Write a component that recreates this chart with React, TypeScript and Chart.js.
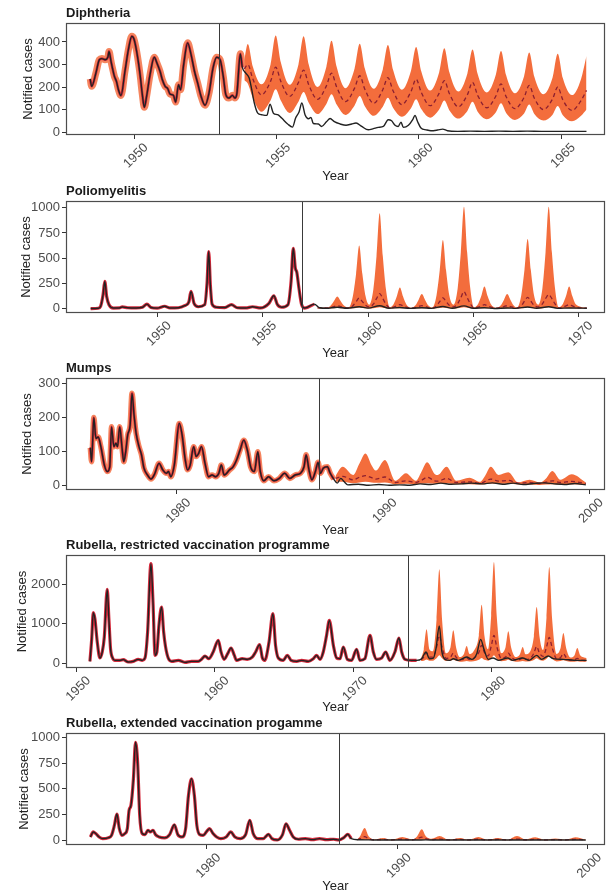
import React, { useEffect, useRef } from "react";
import { Chart, registerables } from "chart.js";

Chart.register(...registerables);

const FONT_FAMILY = "'Liberation Sans', Arial, Helvetica, sans-serif";
Chart.defaults.font.family = FONT_FAMILY;

// ---------------- Diphtheria ----------------
const diphYears = [
  1948.46, 1948.51, 1948.66, 1948.78, 1948.87, 1948.98, 1949.08, 1949.12, 1949.19, 1949.24,
  1949.31, 1949.38, 1949.45, 1949.54, 1949.68, 1949.8, 1949.92, 1949.99, 1950.09, 1950.21,
  1950.29, 1950.36, 1950.44, 1950.56, 1950.71, 1950.8, 1950.91, 1950.99, 1951.09, 1951.18,
  1951.26, 1951.38, 1951.46, 1951.56, 1951.63, 1951.74, 1951.88, 1952.0, 1952.12, 1952.23,
  1952.35, 1952.49, 1952.63, 1952.77, 1952.9, 1953.02, 1953.13, 1953.22, 1953.33, 1953.45,
  1953.54, 1953.61, 1953.73, 1953.8, 1953.92, 1954.04, 1954.13, 1954.22, 1954.34, 1954.48,
  1954.66, 1954.77, 1954.89, 1955.04, 1955.18, 1955.39, 1955.56, 1955.67, 1955.79, 1955.89,
  1956.0, 1956.12, 1956.21, 1956.29, 1956.47, 1956.58, 1956.76, 1956.88, 1957.03, 1957.23,
  1957.44, 1957.64, 1957.79, 1957.99, 1958.22, 1958.4, 1958.57, 1958.75, 1958.92, 1959.04,
  1959.16, 1959.27, 1959.37, 1959.45, 1959.63, 1959.78, 1959.86, 1959.95, 1960.07, 1960.25,
  1960.42, 1960.65, 1960.83, 1961.0, 1961.36, 1961.8, 1962.3, 1962.8, 1963.3, 1963.8,
  1964.3, 1964.8, 1965.3, 1965.88,
];
const diphCases = [
  236, 203, 262, 321, 326, 321, 332, 358, 314, 284,
  247, 225, 188, 162, 270, 366, 425, 415, 358, 255,
  166, 110, 159, 255, 332, 307, 270, 233, 203, 193,
  169, 163, 133, 210, 188, 299, 396, 344, 270, 218,
  159, 119, 173, 284, 332, 321, 247, 166, 151, 163,
  151, 173, 347, 287, 262, 240, 188, 129, 84, 77,
  74, 124, 84, 77, 62, 36, 22, 62, 89, 129,
  77, 59, 65, 38, 36, 25, 47, 60, 46, 36,
  30, 36, 40, 25, 10, 15, 21, 25, 55, 50,
  30, 25, 44, 21, 30, 55, 74, 47, 18, 10,
  6, 9, 13, 6, 3, 4, 3, 4, 3, 4,
  3, 3, 3, 3,
];
const diphBandYears = [
  1953.87, 1953.99, 1954.17, 1954.47,
  1954.79, 1954.97, 1955.15, 1955.46,
  1955.77, 1955.95, 1956.13, 1956.44,
  1956.75, 1956.93, 1957.11, 1957.42,
  1957.74, 1957.92, 1958.1, 1958.41,
  1958.73, 1958.91, 1959.09, 1959.4,
  1959.72, 1959.9, 1960.08, 1960.39,
  1960.71, 1960.89, 1961.07, 1961.38,
  1961.7, 1961.88, 1962.06, 1962.38,
  1962.7, 1962.88, 1963.06, 1963.37,
  1963.69, 1963.87, 1964.05, 1964.37,
  1964.69, 1964.87, 1965.05, 1965.37,
  1965.69, 1965.88,
];
const diphUpper = [
  320, 391, 290, 212,
  300, 428, 310, 210,
  300, 425, 300, 200,
  290, 405, 290, 195,
  282, 392, 282, 192,
  278, 386, 276, 188,
  272, 378, 270, 184,
  266, 372, 264, 180,
  260, 366, 258, 176,
  255, 360, 252, 172,
  248, 353, 246, 168,
  242, 348, 240, 164,
  236, 338,
];
const diphMean = [
  280, 300, 235, 165,
  225, 288, 225, 158,
  220, 275, 210, 145,
  205, 262, 200, 135,
  195, 250, 190, 128,
  188, 242, 183, 122,
  180, 235, 176, 117,
  173, 228, 170, 112,
  166, 221, 163, 108,
  160, 214, 157, 104,
  154, 207, 150, 100,
  147, 200, 143, 96,
  140, 185,
];
const diphLower = [
  230, 215, 150, 90,
  140, 190, 140, 85,
  135, 178, 130, 80,
  125, 168, 122, 76,
  118, 160, 115, 72,
  112, 152, 108, 68,
  106, 146, 102, 64,
  100, 140, 96, 60,
  94, 134, 90, 57,
  88, 128, 85, 54,
  82, 122, 80, 51,
  77, 116, 75, 48,
  72, 100,
];
const diphXTicks = [1950, 1955, 1960, 1965];
const diphYTicks = [0, 100, 200, 300, 400];

// ---------------- Poliomyelitis ----------------
const polioYears = [
  1946.84, 1947.2, 1947.31, 1947.43, 1947.51, 1947.6, 1947.71, 1947.92, 1948.2, 1948.34,
  1948.6, 1949.0, 1949.3, 1949.51, 1949.7, 1950.0, 1950.35, 1950.6, 1951.0, 1951.3,
  1951.5, 1951.6, 1951.75, 1951.95, 1952.25, 1952.36, 1952.44, 1952.52, 1952.6, 1952.8,
  1953.2, 1953.52, 1953.8, 1954.2, 1954.52, 1954.9, 1955.3, 1955.53, 1955.7, 1955.9,
  1956.2, 1956.35, 1956.45, 1956.55, 1956.62, 1956.72, 1956.85, 1957.0, 1957.45, 1957.7,
  1958.0, 1958.54, 1959.0, 1959.58, 1960.0, 1960.55, 1961.0, 1961.5, 1962.0, 1962.55,
  1963.0, 1963.55, 1964.0, 1964.55, 1965.0, 1965.52, 1966.0, 1966.6, 1967.0, 1967.57,
  1968.0, 1968.57, 1969.0, 1969.54, 1970.38,
];
const polioCases = [
  2, 5, 23, 140, 270, 120, 40, 7, 8, 18,
  10, 8, 15, 46, 12, 6, 25, 8, 10, 30,
  68, 172, 50, 20, 40, 250, 566, 230, 46, 15,
  12, 40, 10, 8, 20, 8, 54, 128, 40, 15,
  40, 275, 598, 401, 360, 204, 40, 7, 46, 10,
  5, 15, 5, 20, 6, 30, 5, 12, 4, 10,
  4, 22, 5, 28, 5, 10, 3, 8, 4, 18,
  5, 20, 4, 8, 5,
];
const polioBandYears = [
  1957.6, 1958.05, 1958.24, 1958.39, 1958.54, 1958.69, 1958.84,
  1959.08, 1959.28, 1959.43, 1959.58, 1959.73, 1959.88,
  1960.05, 1960.25, 1960.4, 1960.55, 1960.7, 1960.85,
  1961.03, 1961.21, 1961.36, 1961.51, 1961.66, 1961.81,
  1962.05, 1962.25, 1962.4, 1962.55, 1962.7, 1962.85,
  1963.05, 1963.25, 1963.4, 1963.55, 1963.7, 1963.85,
  1964.05, 1964.25, 1964.4, 1964.55, 1964.7, 1964.85,
  1965.02, 1965.22, 1965.37, 1965.52, 1965.67, 1965.82,
  1966.1, 1966.3, 1966.45, 1966.6, 1966.75, 1966.9,
  1967.07, 1967.27, 1967.42, 1967.57, 1967.72, 1967.87,
  1968.07, 1968.27, 1968.42, 1968.57, 1968.72, 1968.87,
  1969.04, 1969.24, 1969.39, 1969.54, 1969.69, 1969.84,
  1970.38,
];
const polioUpper = [
  15, 10, 35, 80, 122, 80, 35,
  12, 125, 345, 625, 345, 125,
  40, 190, 520, 944, 520, 190,
  15, 45, 120, 211, 120, 45,
  10, 35, 90, 145, 90, 35,
  12, 135, 380, 681, 380, 135,
  40, 200, 560, 1010, 560, 200,
  15, 48, 125, 221, 125, 48,
  10, 35, 90, 145, 90, 35,
  12, 135, 385, 691, 385, 135,
  40, 200, 560, 1010, 560, 200,
  15, 48, 125, 221, 125, 48,
  10,
];
const polioMean = [
  8, 8, 14, 22, 30, 22, 14,
  8, 30, 70, 105, 70, 35,
  18, 45, 100, 150, 100, 45,
  8, 15, 28, 40, 28, 15,
  6, 12, 22, 30, 22, 12,
  8, 30, 72, 108, 72, 35,
  18, 50, 110, 170, 110, 50,
  8, 15, 28, 40, 28, 15,
  6, 12, 22, 30, 22, 12,
  8, 30, 75, 112, 75, 35,
  18, 48, 100, 140, 100, 48,
  8, 15, 28, 40, 28, 15,
  6,
];
const polioLower = [
  3, 2, 4, 6, 8, 6, 4,
  2, 4, 8, 12, 8, 5,
  3, 5, 10, 15, 10, 5,
  2, 3, 5, 6, 5, 3,
  2, 3, 4, 5, 4, 3,
  2, 4, 8, 12, 8, 5,
  3, 5, 10, 16, 10, 5,
  2, 3, 5, 6, 5, 3,
  2, 3, 4, 5, 4, 3,
  2, 4, 8, 12, 8, 5,
  3, 5, 10, 16, 10, 5,
  2, 3, 5, 6, 5, 3,
  2,
];
const polioXTicks = [1950, 1955, 1960, 1965, 1970];
const polioYTicks = [0, 250, 500, 750, 1000];

// ---------------- Mumps ----------------
const mumpsYears = [
  1975.81, 1975.87, 1975.98, 1976.08, 1976.19, 1976.32, 1976.49, 1976.63, 1976.75, 1976.84,
  1976.95, 1977.05, 1977.13, 1977.23, 1977.35, 1977.43, 1977.52, 1977.62, 1977.74, 1977.83,
  1977.93, 1978.03, 1978.17, 1978.29, 1978.41, 1978.58, 1978.75, 1978.92, 1979.14, 1979.32,
  1979.49, 1979.6, 1979.71, 1979.88, 1980.12, 1980.26, 1980.4, 1980.52, 1980.65, 1980.82,
  1980.94, 1981.06, 1981.2, 1981.37, 1981.54, 1981.71, 1981.88, 1982.04, 1982.16, 1982.3,
  1982.56, 1982.73, 1982.9, 1983.07, 1983.25, 1983.42, 1983.59, 1983.76, 1983.93, 1984.05,
  1984.22, 1984.45, 1984.71, 1984.97, 1985.23, 1985.48, 1985.74, 1986.0, 1986.17, 1986.27,
  1986.41, 1986.55, 1986.72, 1986.85, 1986.97, 1987.1, 1987.3, 1987.44, 1987.61, 1987.78,
  1987.95, 1988.12, 1988.29, 1988.8, 1989.3, 1989.8, 1990.3, 1990.8, 1991.3, 1991.8,
  1992.3, 1992.8, 1993.3, 1993.8, 1994.3, 1994.8, 1995.3, 1995.8, 1996.3, 1996.8,
  1997.3, 1997.8, 1998.3, 1998.8, 1999.3, 1999.83,
];
const mumpsCases = [
  112, 71, 200, 139, 143, 115, 61, 42, 56, 173,
  115, 125, 115, 173, 110, 71, 98, 149, 178, 271,
  207, 154, 115, 91, 52, 32, 20, 34, 66, 47,
  37, 42, 27, 61, 183, 149, 81, 47, 61, 115,
  86, 95, 115, 66, 27, 32, 27, 37, 61, 32,
  47, 56, 76, 105, 134, 105, 54, 42, 100, 42,
  15, 27, 15, 22, 37, 22, 32, 37, 56, 91,
  47, 18, 42, 69, 37, 52, 56, 37, 20, 8,
  22, 12, 3, 5, 2, 4, 2, 3, 2, 6,
  4, 8, 5, 6, 8, 6, 9, 5, 8, 4,
  7, 9, 6, 4, 7, 3,
];
const mumpsBandYears = [
  1987.7, 1988.04, 1988.55, 1988.85, 1989.15, 1989.45, 1989.65, 1990.09, 1990.6, 1991.11,
  1991.6, 1991.85, 1992.14, 1992.5, 1992.65, 1993.08, 1993.55, 1994.19, 1994.7, 1994.95,
  1995.22, 1995.6, 1996.07, 1996.55, 1997.1, 1997.6, 1997.9, 1998.21, 1998.6, 1999.15,
  1999.83,
];
const mumpsUpper = [
  30, 56, 32, 65, 95, 60, 45, 76, 15, 37,
  15, 40, 69, 35, 32, 56, 15, 24, 12, 30,
  56, 32, 40, 10, 18, 10, 22, 44, 18, 34,
  10,
];
const mumpsMean = [
  22, 28, 18, 25, 30, 24, 20, 26, 10, 15,
  10, 16, 25, 15, 14, 22, 10, 12, 8, 13,
  20, 14, 16, 8, 10, 7, 11, 15, 10, 13,
  7,
];
const mumpsLower = [
  12, 12, 8, 10, 12, 10, 9, 10, 5, 6,
  5, 6, 8, 6, 6, 8, 5, 5, 4, 5,
  7, 6, 6, 4, 4, 3, 4, 5, 4, 5,
  3,
];
const mumpsXTicks = [1980, 1990, 2000];
const mumpsYTicks = [0, 100, 200, 300];

// ---------------- Rubella, restricted ----------------
const rubRYears = [
  1950.96, 1951.09, 1951.2, 1951.32, 1951.49, 1951.68, 1951.85, 1952.0, 1952.21, 1952.33,
  1952.45, 1952.6, 1952.77, 1953.13, 1953.37, 1953.73, 1954.1, 1954.45, 1954.74, 1954.94,
  1955.13, 1955.37, 1955.52, 1955.67, 1955.8, 1955.95, 1956.14, 1956.29, 1956.43, 1956.62,
  1956.87, 1957.35, 1957.83, 1958.31, 1958.79, 1959.03, 1959.28, 1959.55, 1959.87, 1960.24,
  1960.44, 1960.66, 1960.92, 1961.16, 1961.4, 1961.56, 1961.97, 1962.33, 1962.7, 1962.94,
  1963.23, 1963.43, 1963.6, 1963.91, 1964.19, 1964.38, 1964.58, 1964.94, 1965.23, 1965.5,
  1965.91, 1966.27, 1966.75, 1967.11, 1967.35, 1967.59, 1967.83, 1968.07, 1968.27, 1968.56,
  1968.8, 1969.04, 1969.28, 1969.57, 1969.88, 1970.24, 1970.48, 1970.84, 1971.21, 1971.45,
  1971.69, 1972.05, 1972.34, 1972.65, 1973.01, 1973.3, 1973.5, 1973.74, 1974.22, 1974.58,
  1974.94, 1975.26, 1975.5, 1975.79, 1975.98, 1976.22, 1976.41, 1976.63, 1976.99, 1977.23,
  1977.59, 1978.2, 1978.57, 1978.93, 1979.21, 1979.45, 1979.76, 1980.1, 1980.51, 1981.16,
  1981.52, 1982.24, 1982.72, 1983.26, 1983.62, 1984.1, 1984.46, 1985.18, 1986.15, 1986.87,
];
const rubRCases = [
  42, 618, 1279, 1127, 534, 127, 280, 661, 1872, 1127,
  364, 127, 68, 68, 85, 25, 42, 93, 68, 127,
  788, 2524, 1550, 195, 280, 957, 1423, 788, 407, 127,
  42, 68, 17, 42, 42, 93, 178, 110, 280, 576,
  280, 93, 237, 381, 195, 68, 110, 93, 152, 280,
  466, 127, 68, 534, 1254, 449, 127, 68, 195, 68,
  42, 68, 42, 110, 195, 93, 280, 703, 1084, 449,
  127, 110, 407, 93, 68, 350, 68, 110, 703, 280,
  93, 127, 280, 68, 280, 635, 280, 93, 68, 68,
  110, 280, 110, 127, 364, 940, 280, 93, 68, 110,
  68, 152, 93, 237, 601, 347, 93, 127, 68, 127,
  68, 127, 68, 195, 93, 178, 110, 93, 68, 68,
];
const rubRBandYears = [
  1974.9, 1975.1, 1975.3, 1975.5, 1975.75, 1976.02, 1976.22, 1976.42, 1976.7, 1977.03,
  1977.23, 1977.43, 1977.7, 1978.0, 1978.2, 1978.4, 1978.7, 1979.08, 1979.28, 1979.48,
  1979.75, 1979.97, 1980.17, 1980.37, 1980.7, 1981.01, 1981.21, 1981.41, 1981.75, 1982.05,
  1982.25, 1982.45, 1982.8, 1983.06, 1983.26, 1983.46, 1983.72, 1983.97, 1984.17, 1984.37,
  1984.7, 1984.99, 1985.19, 1985.39, 1985.7, 1986.0, 1986.2, 1986.4, 1986.87,
];
const rubRUpper = [
  110, 350, 856, 350, 300, 1100, 2380, 1100, 250, 400,
  830, 400, 150, 230, 432, 230, 300, 700, 1482, 700,
  350, 1200, 2567, 1200, 250, 400, 805, 400, 150, 220,
  407, 220, 300, 680, 1423, 680, 330, 1150, 2440, 1150,
  230, 380, 760, 380, 140, 200, 381, 200, 130,
];
const rubRMean = [
  80, 150, 260, 150, 150, 400, 700, 400, 120, 150,
  250, 150, 80, 90, 130, 90, 120, 270, 450, 270,
  180, 420, 700, 420, 120, 150, 250, 150, 80, 90,
  130, 90, 120, 250, 420, 250, 170, 400, 650, 400,
  110, 140, 240, 140, 70, 80, 120, 80, 60,
];
const rubRLower = [
  50, 60, 90, 60, 60, 120, 200, 120, 50, 55,
  80, 55, 35, 40, 50, 40, 45, 80, 130, 80,
  60, 110, 200, 110, 45, 55, 80, 55, 35, 40,
  50, 40, 45, 75, 120, 75, 55, 105, 180, 105,
  40, 50, 70, 50, 30, 35, 45, 35, 30,
];
const rubRXTicks = [1950, 1960, 1970, 1980];
const rubRYTicks = [0, 1000, 2000];

// ---------------- Rubella, extended ----------------
const rubEYears = [
  1973.89, 1974.04, 1974.17, 1974.35, 1974.54, 1974.81, 1975.0, 1975.15, 1975.28, 1975.41,
  1975.55, 1975.7, 1975.83, 1975.92, 1976.02, 1976.15, 1976.26, 1976.37, 1976.48, 1976.61,
  1976.76, 1976.91, 1977.04, 1977.18, 1977.31, 1977.5, 1977.78, 1978.05, 1978.3, 1978.48,
  1978.7, 1978.89, 1979.04, 1979.2, 1979.35, 1979.48, 1979.63, 1979.81, 1980.0, 1980.15,
  1980.33, 1980.52, 1980.74, 1981.02, 1981.26, 1981.48, 1981.76, 1982.04, 1982.26, 1982.44,
  1982.68, 1982.96, 1983.24, 1983.42, 1983.7, 1983.98, 1984.16, 1984.35, 1984.54, 1984.81,
  1985.18, 1985.55, 1985.92, 1986.29, 1986.66, 1986.94, 1987.18, 1987.41, 1987.59, 1987.96,
  1988.5, 1989.0, 1989.5, 1990.0, 1990.5, 1991.0, 1991.5, 1992.0, 1992.5, 1993.5,
  1994.5, 1995.5, 1996.5, 1997.5, 1998.5, 1999.9,
];
const rubECases = [
  32, 81, 65, 32, 16, 23, 48, 145, 255, 113,
  48, 65, 113, 290, 339, 597, 952, 758, 242, 65,
  55, 97, 81, 97, 55, 32, 23, 55, 150, 55,
  32, 113, 435, 597, 435, 145, 55, 48, 87, 113,
  65, 32, 16, 32, 81, 32, 16, 55, 194, 65,
  16, 16, 58, 16, 3, 55, 160, 97, 32, 10,
  16, 6, 16, 6, 10, 3, 23, 58, 16, 5,
  4, 2, 3, 2, 3, 2, 4, 2, 3, 2,
  3, 2, 3, 2, 2, 2,
];
const rubEBandYears = [
  1987.9, 1988.05, 1988.29, 1988.5, 1988.8, 1989.25, 1989.7, 1990.27, 1990.8, 1991.05,
  1991.29, 1991.5, 1991.8, 1992.22, 1992.7, 1993.29, 1993.75, 1994.26, 1994.75, 1995.28,
  1995.8, 1996.29, 1996.75, 1997.25, 1997.75, 1998.3, 1998.85, 1999.35, 1999.9,
];
const rubEUpper = [
  8, 40, 119, 40, 8, 23, 5, 32, 8, 40,
  106, 40, 15, 42, 6, 23, 5, 32, 5, 23,
  6, 42, 8, 29, 5, 16, 5, 29, 6,
];
const rubEMean = [
  5, 15, 35, 15, 5, 8, 4, 10, 5, 15,
  30, 15, 7, 12, 4, 8, 4, 10, 4, 8,
  4, 12, 5, 9, 4, 6, 4, 9, 4,
];
const rubELower = [
  2, 3, 6, 3, 2, 2, 1, 2, 2, 3,
  5, 3, 2, 3, 1, 2, 1, 2, 1, 2,
  1, 3, 1, 2, 1, 2, 1, 2, 1,
];
const rubEXTicks = [1980, 1990, 2000];
const rubEYTicks = [0, 250, 500, 750, 1000];

// ---------------- panel definitions ----------------
interface PanelDef {
  title: string;
  years: number[];
  cases: number[];
  bandYears: number[];
  upper: number[];
  mean: number[];
  lower: number[];
  fitEnd: number;
  vline: number;
  xTicks: number[];
  yTicks: number[];
  xMin: number;
  xMax: number;
  yMin: number;
  yMax: number;
  halo: number;
  top: number;
  height: number;
  xAxisHeight: number;
  yTitlePad: number;
}

const panels: PanelDef[] = [
  {
    title: "Diphtheria",
    years: diphYears, cases: diphCases,
    bandYears: diphBandYears, upper: diphUpper, mean: diphMean, lower: diphLower,
    fitEnd: 1953.87, vline: 1952.97,
    xTicks: diphXTicks, yTicks: diphYTicks,
    xMin: 1947.61, xMax: 1966.53, yMin: -13, yMax: 484,
    halo: 7, top: 0, height: 185, xAxisHeight: 50, yTitlePad: 21,
  },
  {
    title: "Poliomyelitis",
    years: polioYears, cases: polioCases,
    bandYears: polioBandYears, upper: polioUpper, mean: polioMean, lower: polioLower,
    fitEnd: 1957.6, vline: 1956.87,
    xTicks: polioXTicks, yTicks: polioYTicks,
    xMin: 1945.67, xMax: 1971.24, yMin: -42, yMax: 1066,
    halo: 0, top: 178, height: 184, xAxisHeight: 49, yTitlePad: 19,
  },
  {
    title: "Mumps",
    years: mumpsYears, cases: mumpsCases,
    bandYears: mumpsBandYears, upper: mumpsUpper, mean: mumpsMean, lower: mumpsLower,
    fitEnd: 1987.7, vline: 1986.89,
    xTicks: mumpsXTicks, yTicks: mumpsYTicks,
    xMin: 1974.63, xMax: 2000.76, yMin: -12, yMax: 316,
    halo: 5.5, top: 355, height: 184, xAxisHeight: 49, yTitlePad: 20,
  },
  {
    title: "Rubella, restricted vaccination programme",
    years: rubRYears, cases: rubRCases,
    bandYears: rubRBandYears, upper: rubRUpper, mean: rubRMean, lower: rubRLower,
    fitEnd: 1974.9, vline: 1973.98,
    xTicks: rubRXTicks, yTicks: rubRYTicks,
    xMin: 1949.23, xMax: 1988.2, yMin: -127, yMax: 2745,
    halo: 0, top: 532, height: 184, xAxisHeight: 48, yTitlePad: 15,
  },
  {
    title: "Rubella, extended vaccination progamme",
    years: rubEYears, cases: rubECases,
    bandYears: rubEBandYears, upper: rubEUpper, mean: rubEMean, lower: rubELower,
    fitEnd: 1987.9, vline: 1986.93,
    xTicks: rubEXTicks, yTicks: rubEYTicks,
    xMin: 1972.61, xMax: 2000.91, yMin: -46, yMax: 1042,
    halo: 0, top: 710, height: 185, xAxisHeight: 50, yTitlePad: 17,
  },
];

function pts(xs: number[], ys: number[]) {
  return xs.map((x, i) => ({ x, y: ys[i] }));
}

const BAND = "#f36d3c";
const TICK_COLOR = "#4d4d4d";

const decorPlugin = {
  id: "decor",
  afterDatasetsDraw(chart: any, _args: any, opts: any) {
    const { ctx, chartArea: a, scales } = chart;
    ctx.save();
    const xv = Math.round(scales.x.getPixelForValue(opts.vline)) + 0.5;
    ctx.strokeStyle = "#3a3a3a";
    ctx.lineWidth = 1;
    ctx.beginPath();
    ctx.moveTo(xv, a.top);
    ctx.lineTo(xv, a.bottom);
    ctx.stroke();
    ctx.strokeStyle = "#4d4d4d";
    ctx.lineWidth = 1.2;
    ctx.strokeRect(Math.round(a.left) + 0.5, Math.round(a.top) + 0.5, Math.round(a.right - a.left) - 1, Math.round(a.bottom - a.top) - 1);
    ctx.fillStyle = "#1a1a1a";
    ctx.font = `bold 13px ${FONT_FAMILY}`;
    ctx.textAlign = "left";
    ctx.textBaseline = "middle";
    ctx.fillText(opts.title, a.left, a.top - 10);
    ctx.restore();
  },
};

function buildConfig(p: PanelDef): any {
  const common = {
    pointRadius: 0,
    pointHoverRadius: 0,
    tension: 0.4,
    cubicInterpolationMode: "monotone",
    fill: false,
  };
  const fit = p.years
    .map((x, i) => ({ x, y: p.cases[i] }))
    .filter((d) => d.x <= p.fitEnd);
  const datasets: any[] = [
    { ...common, label: "observed", data: pts(p.years, p.cases), borderColor: "#222222", borderWidth: 1.4, order: 0 },
    { ...common, label: "mean", data: pts(p.bandYears, p.mean), borderColor: "#8c1f30", borderWidth: 1.3, borderDash: [4, 3], order: 1 },
    { ...common, label: "fit", data: fit, borderColor: "#d42a3c", borderWidth: p.halo ? 2.6 : 3.2, order: 2 },
    { ...common, label: "fitband", data: fit, borderColor: p.halo ? "rgba(244,120,76,0.9)" : "rgba(0,0,0,0)", borderWidth: p.halo || 1, order: 3 },
    { ...common, label: "upper", data: pts(p.bandYears, p.upper), borderColor: "rgba(0,0,0,0)", borderWidth: 1, backgroundColor: BAND, fill: "+1", order: 4 },
    { ...common, label: "lower", data: pts(p.bandYears, p.lower), borderColor: "rgba(0,0,0,0)", borderWidth: 1, order: 5 },
  ];
  const gridOpts = { display: true, drawOnChartArea: false, drawTicks: true, tickLength: 4, color: "#333333", lineWidth: 1 };
  return {
    type: "line",
    data: { datasets },
    plugins: [decorPlugin],
    options: {
      responsive: false,
      animation: false,
      devicePixelRatio: 1,
      events: [],
      layout: { padding: { top: 23, right: 3, left: 0, bottom: 0 } },
      plugins: {
        legend: { display: false },
        tooltip: { enabled: false },
        decor: { title: p.title, vline: p.vline },
      },
      scales: {
        x: {
          type: "linear",
          min: p.xMin,
          max: p.xMax,
          afterBuildTicks: (s: any) => { s.ticks = p.xTicks.map((v) => ({ value: v })); },
          afterFit: (s: any) => { s.height = p.xAxisHeight; },
          ticks: {
            autoSkip: false, maxRotation: 45, minRotation: 45, color: TICK_COLOR,
            font: { size: 13, family: FONT_FAMILY }, padding: 1, labelOffset: 12,
            callback: (v: any) => String(v),
          },
          grid: gridOpts,
          border: { display: false },
          title: { display: true, text: "Year", color: "#222222", font: { size: 13, family: FONT_FAMILY }, padding: { top: 0, bottom: 1 } },
        },
        y: {
          type: "linear",
          min: p.yMin,
          max: p.yMax,
          afterBuildTicks: (s: any) => { s.ticks = p.yTicks.map((v) => ({ value: v })); },
          afterFit: (s: any) => { s.width = 66; },
          ticks: {
            color: TICK_COLOR, font: { size: 13, family: FONT_FAMILY }, padding: 2,
            callback: (v: any) => String(v),
          },
          grid: gridOpts,
          border: { display: false },
          title: { display: true, text: "Notified cases", color: "#222222", font: { size: 13, family: FONT_FAMILY }, padding: { top: p.yTitlePad, bottom: 0 } },
        },
      },
    },
  };
}

function PanelChart({ p }: { p: PanelDef }) {
  const ref = useRef<HTMLCanvasElement | null>(null);
  useEffect(() => {
    if (!ref.current) return;
    const chart = new Chart(ref.current, buildConfig(p));
    return () => chart.destroy();
  }, [p]);
  return (
    <canvas
      ref={ref}
      width={608}
      height={p.height}
      style={{ position: "absolute", left: 0, top: p.top, width: 608, height: p.height, display: "block" }}
    />
  );
}

export default function App() {
  return (
    <div style={{ position: "absolute", left: 0, top: 0, width: 608, height: 896, background: "#ffffff", overflow: "hidden" }}>
      {panels.map((p) => (
        <PanelChart key={p.title} p={p} />
      ))}
    </div>
  );
}
